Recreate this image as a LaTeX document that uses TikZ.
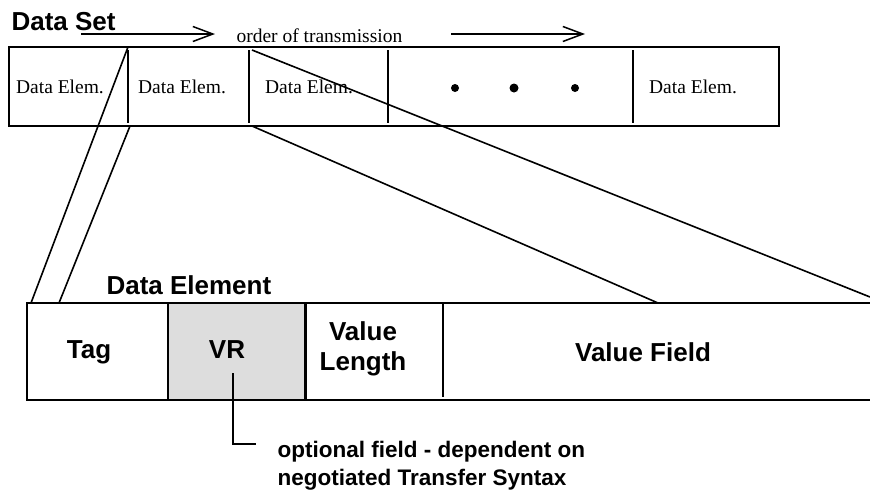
\documentclass[tikz,border=0pt]{standalone}
\usepackage{fontspec}
\setmainfont{Liberation Serif}
\setsansfont{Liberation Sans}
\usetikzlibrary{arrows.meta}

\begin{document}
\begin{tikzpicture}[x=1pt,y=-1pt,
  elemtext/.style={font=\fontsize{19.5}{23}\selectfont, anchor=base},
  boldtext/.style={font=\sffamily\bfseries\fontsize{26}{30}\selectfont, align=center},
  notetext/.style={font=\sffamily\bfseries\fontsize{22.5}{28}\selectfont, align=left, anchor=base west},
  frame/.style={line width=2pt},
  fan/.style={line width=1.6pt},
  order/.style={line width=1.5pt, -{Straight Barb[length=20pt,width=15pt]}}]
\useasboundingbox (0,0) rectangle (870,493);

%% data set
\node[boldtext, anchor=base west] (dataset) at (8,30) {Data Set};
\draw[frame] (9,47) rectangle (779,126);
\foreach \x in {128,249,388,633}
  \draw[frame] (\x,50) -- (\x,123);
\node[elemtext] (elem1) at (60,93) {Data Elem.};
\node[elemtext] (elem2) at (182,93) {Data Elem.};
\node[elemtext] (elem3) at (309,93) {Data Elem.};
\node[elemtext] (elem4) at (693,93) {Data Elem.};
\fill (455,88) circle (4pt);
\fill (514,88) circle (4.5pt);
\fill (575,88) circle (4pt);

%% order of transmission
\coordinate (o1) at (81,34);
\coordinate (o2) at (215,34);
\coordinate (o3) at (451,34);
\coordinate (o4) at (585,34);
\draw[order] (o1) -- (o2);
\draw[order] (o3) -- (o4);
\node[elemtext, anchor=base west] (trans) at (233,42) {order of transmission};

%% data element
\fill[gray!27] (168,303) rectangle (305,400);
\draw[frame] (870,303) -- (27,303) -- (27,400) -- (870,400);
\draw[frame] (168,303) -- (168,400);
\draw[line width=3pt] (305,303) -- (305,400);
\draw[frame] (443,303) -- (443,397);
\node[boldtext, anchor=base west] (element) at (103,294) {Data Element};
\node[boldtext, anchor=base] (tag) at (89,358) {Tag};
\node[boldtext, anchor=base] (vr) at (227,358) {VR};
\node[boldtext] (length) at (363,349) {Value\\Length};
\node[boldtext, anchor=base] (field) at (643,361) {Value Field};

%% fan
\coordinate (s1) at (128,47);
\coordinate (s2) at (130,126);
\coordinate (s3) at (252,50);
\coordinate (s4) at (252,126);
\coordinate (t1) at (31,303);
\coordinate (t2) at (59,303);
\coordinate (t3) at (870,297);
\coordinate (t4) at (658,303);
\draw[fan] (s1) -- (t1);
\draw[fan] (s2) -- (t2);
\draw[fan] (s3) -- (t3);
\draw[fan] (s4) -- (t4);

%% note
\node[notetext] (note) at (274,485) {optional field - dependent on\\negotiated Transfer Syntax};
\coordinate (v1) at (233,373);
\coordinate (v2) at (233,444);
\coordinate (v3) at (256,444);
\draw[fan] (v1) -- (v2) -- (v3);

\end{tikzpicture}
\end{document}
